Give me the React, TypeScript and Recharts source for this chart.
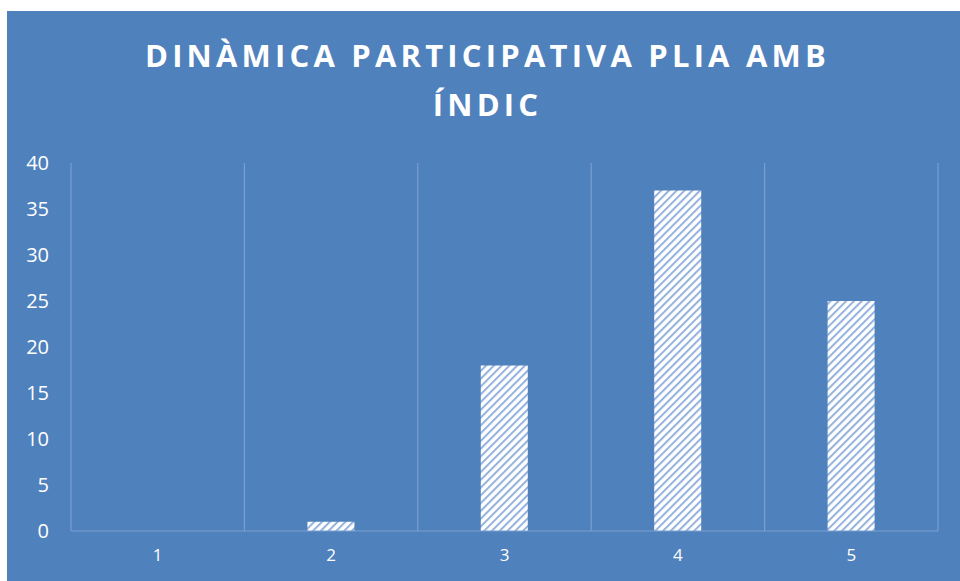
import React from "react";
import { BarChart, Bar, XAxis, YAxis, CartesianGrid } from "recharts";

const categories = ["1", "2", "3", "4", "5"];
const values = [0, 1, 18, 37, 25];
const yTicks = [0, 5, 10, 15, 20, 25, 30, 35, 40];
const titleLines = ["DINÀMICA PARTICIPATIVA PLIA AMB", "ÍNDIC"];

const BG = "#4F81BD";
const GRID = "#7B9FD0";
const TEXT = "#FFFFFF";
const FONT = "'Open Sans', 'DejaVu Sans', sans-serif";

const data = categories.map((c, i) => ({ cat: c, valor: values[i] }));

// gridlines on the category boundaries, not the category centres
const boundaryLines = ({ offset }: any) =>
  categories.concat([""]).map((_, i) => offset.left + (i * offset.width) / categories.length);

export default function App() {
  return (
    <div style={{ position: "absolute", left: 7, top: 11, width: 961, height: 570, background: BG, fontFamily: FONT }}>
      <div style={{ position: "absolute", left: 0, width: 961, top: 20, textAlign: "center", color: TEXT, fontWeight: 700, fontSize: 31, letterSpacing: 4.2, lineHeight: "49px" }}>
        {titleLines.map((t) => (
          <div key={t}>{t}</div>
        ))}
      </div>
      <BarChart width={961} height={570} data={data} margin={{ top: 152, right: 30, bottom: 20, left: 24 }}>
        <defs>
          <pattern id="hatch" patternUnits="userSpaceOnUse" width="5.5" height="5.5" patternTransform="rotate(45)">
            <rect width="5.5" height="5.5" fill="#FFFFFF" />
            <rect width="2" height="5.5" fill="#94B2DC" />
          </pattern>
        </defs>
        <CartesianGrid horizontal={false} stroke={GRID} strokeWidth={1.2} verticalCoordinatesGenerator={boundaryLines} />
        <XAxis dataKey="cat" stroke={GRID} strokeWidth={1.2} tickLine={false} tickSize={0} tickMargin={18}
          tick={{ fill: TEXT, fontSize: 17, fontFamily: FONT }} />
        <YAxis domain={[0, 40]} ticks={yTicks} axisLine={false} tickLine={false} tickSize={0} tickMargin={22} width={40}
          tick={{ fill: TEXT, fontSize: 20, fontFamily: FONT }} />
        <Bar dataKey="valor" fill="url(#hatch)" barSize={47} isAnimationActive={false} />
      </BarChart>
    </div>
  );
}
